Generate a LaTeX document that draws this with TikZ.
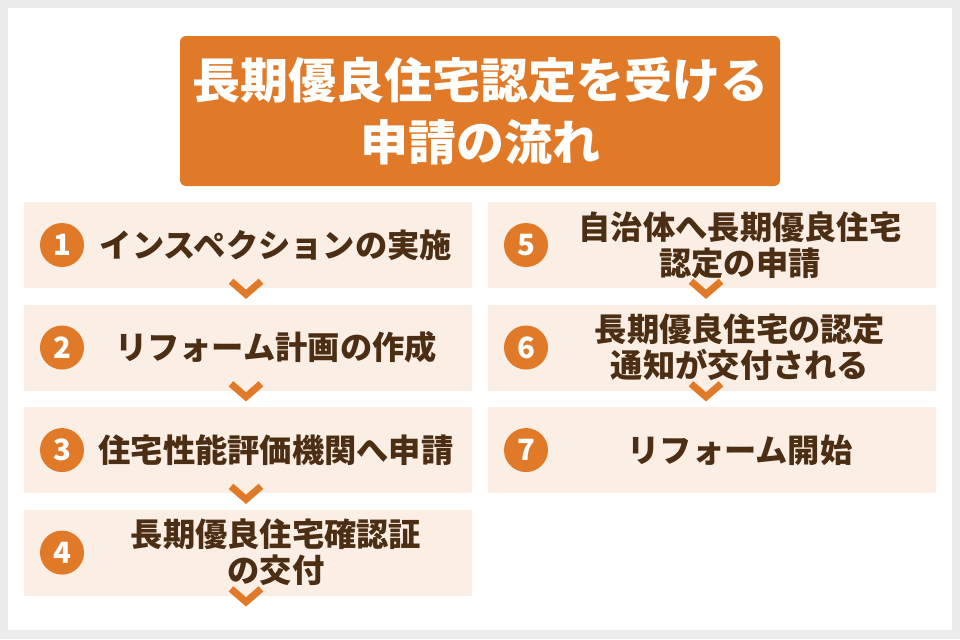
\documentclass[tikz,border=0pt]{standalone}
\usepackage{fontspec}
\setmainfont{Noto Sans CJK JP}
\usetikzlibrary{positioning}
\definecolor{kaki}{HTML}{E07A28}
\definecolor{beige}{HTML}{FAEEE5}
\definecolor{choco}{HTML}{4B2E14}
\definecolor{frame}{HTML}{EBEBEB}

\begin{document}
\begin{tikzpicture}[x=0.75pt, y=-0.75pt, node distance = 12pt,
	block/.style = { rectangle, fill=beige, inner sep=0pt,
	minimum width=336pt, minimum height=64.5pt},
	num/.style = { circle, fill=kaki, text=white, inner sep=0pt,
	minimum size=33pt, font=\fontsize{22}{22}\selectfont\bfseries},
	steptext/.style = { text=choco, align=center, inner sep=0pt,
	font=\fontsize{24.2}{27}\selectfont\bfseries},
	chev/.style = { draw=kaki, line width=5.25pt, line join=miter} ]

  \fill[frame] (0,0) rectangle (960,639);
  \fill[white] (8,8) rectangle (952,630);

  \node [name=title, rectangle, rounded corners=4.5pt, fill=kaki,
	minimum width=450pt, minimum height=112.5pt, text=white, align=center,
	font=\fontsize{36}{46.5}\selectfont\bfseries] at (480,111)
	{長期優良住宅認定を受ける\\申請の流れ};

  % left column
  \node [name=s1, block] at (248,245) {};
  \node [name=s2, block, below=of s1] {};
  \node [name=s3, block, below=of s2] {};
  \node [name=s4, block, below=of s3] {};
  % right column
  \node [name=s5, block] at (712,245) {};
  \node [name=s6, block, below=of s5] {};
  \node [name=s7, block, below=of s6] {};

  \foreach \i in {1,...,7}
	\node [name=n\i, num, right=12pt of s\i.west] {\i};

  \node [name=t1, steptext] at ([xshift=21pt]s1.center) {インスペクションの実施};
  \node [name=t2, steptext] at ([xshift=21pt]s2.center) {リフォーム計画の作成};
  \node [name=t3, steptext] at ([xshift=21pt]s3.center) {住宅性能評価機関へ申請};
  \node [name=t4, steptext] at ([xshift=21pt]s4.center) {長期優良住宅確認証\\の交付};
  \node [name=t5, steptext] at ([xshift=21pt]s5.center) {自治体へ長期優良住宅\\認定の申請};
  \node [name=t6, steptext] at ([xshift=21pt]s6.center) {長期優良住宅の認定\\通知が交付される};
  \node [name=t7, steptext] at ([xshift=21pt]s7.center) {リフォーム開始};

  % chevrons under the boxes
  \foreach \s/\dx in {s1/-2, s2/-2, s3/-2, s4/-2, s5/-6, s6/-6}
	\draw [chev] ([shift={(\dx-15,-7)}]\s.south) -- ([shift={(\dx,6)}]\s.south)
	  -- ([shift={(\dx+15,-7)}]\s.south);
\end{tikzpicture}
\end{document}
